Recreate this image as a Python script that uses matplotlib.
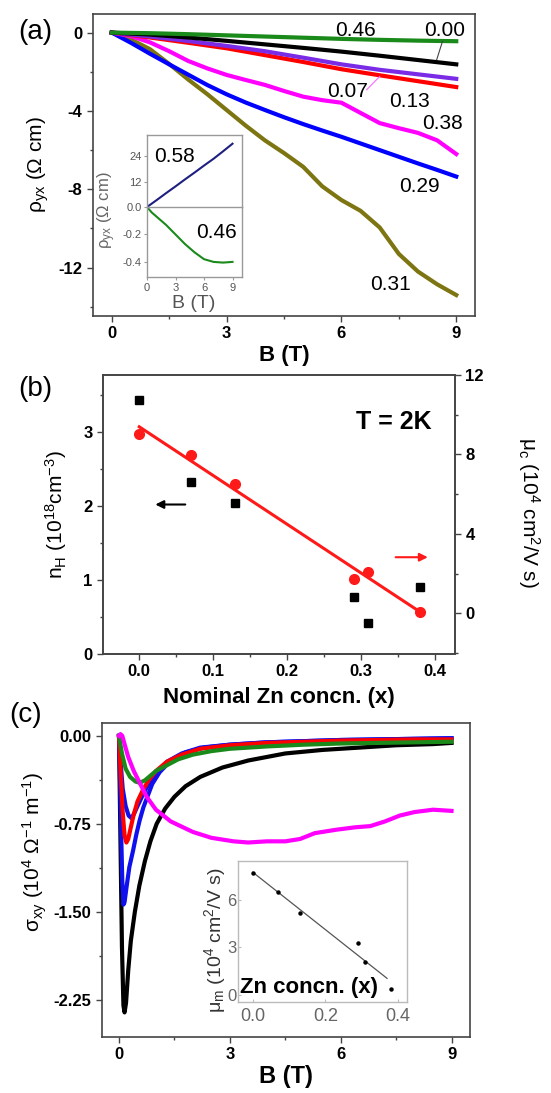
import numpy as np
import matplotlib
matplotlib.use("Agg")
import matplotlib.pyplot as plt
from matplotlib.ticker import MultipleLocator

plt.rcParams['font.family'] = ['Liberation Sans', 'DejaVu Sans']
plt.rcParams['mathtext.fontset'] = 'custom'
plt.rcParams['mathtext.rm'] = 'Liberation Sans'
plt.rcParams['mathtext.it'] = 'Liberation Sans:italic'
plt.rcParams['mathtext.bf'] = 'Liberation Sans:bold'
plt.rcParams['axes.unicode_minus'] = False

# ---------------- data: panel (a) ----------------
B_a10 = [0, 1, 2, 3, 4, 5, 6, 7, 8, 9]
B_a19 = [0, 0.5, 1, 1.5, 2, 2.5, 3, 3.5, 4, 4.5, 5, 5.5, 6, 6.5, 7, 7.5, 8, 8.5, 9]
rho_000 = [0, -0.1, -0.25, -0.42, -0.6, -0.78, -0.97, -1.18, -1.4, -1.62]
rho_purple = [0, -0.2, -0.43, -0.68, -0.95, -1.28, -1.62, -1.9, -2.13, -2.36]
rho_red = [0, -0.25, -0.52, -0.8, -1.15, -1.5, -1.87, -2.18, -2.48, -2.78]
rho_038 = [0, -0.18, -0.5, -0.95, -1.45, -1.83, -2.16, -2.42, -2.67, -2.98, -3.27,
           -3.45, -3.58, -4.1, -4.62, -4.88, -5.12, -5.5, -6.2]
rho_029 = [0, -0.52, -1.08, -1.62, -2.15, -2.68, -3.15, -3.57, -3.95, -4.32, -4.67,
           -5.0, -5.32, -5.66, -6.0, -6.34, -6.68, -7.01, -7.35]
rho_031 = [0, -0.35, -0.85, -1.6, -2.4, -3.15, -3.95, -4.75, -5.5, -6.15, -6.85,
           -7.85, -8.55, -9.1, -9.95, -11.3, -12.2, -12.85, -13.4]
rho_046 = [0, -0.03, -0.08, -0.14, -0.2, -0.26, -0.32, -0.37, -0.41, -0.44]

# inset (a)
B_in = [0, 1, 2, 3, 4, 5, 6, 7, 8, 9]
rho_058_in = [0, 3.2, 6.5, 9.7, 13.0, 16.2, 19.5, 22.7, 26.2, 29.8]
B_in46 = [0, 0.5, 1, 1.5, 2, 3, 4, 5, 6, 7, 8, 9]
rho_046_in = [0, -0.04, -0.07, -0.1, -0.13, -0.2, -0.27, -0.33, -0.38, -0.4, -0.405, -0.4]

# ---------------- data: panel (b) ----------------
x_zn = [0.0, 0.07, 0.13, 0.29, 0.31, 0.38]
n_H = [3.43, 2.32, 2.04, 0.77, 0.42, 0.90]
mu_c = [9.03, 7.95, 6.53, 1.75, 2.08, 0.08]

# ---------------- data: panel (c) ----------------
B_black = [0, 0.04, 0.08, 0.12, 0.15, 0.19, 0.25, 0.32, 0.43, 0.55, 0.7, 0.85, 1.02,
           1.25, 1.5, 1.8, 2.2, 2.8, 3.5, 4.5, 5.5, 6.5, 7.5, 8.5, 9]
s_black = [0, -0.9, -1.8, -2.3, -2.36, -2.28, -2.0, -1.75, -1.5, -1.28, -1.07, -0.9, -0.75,
           -0.62, -0.52, -0.43, -0.35, -0.27, -0.21, -0.15, -0.12, -0.1, -0.08, -0.07, -0.06]
B_blue1 = [0, 0.03, 0.06, 0.09, 0.12, 0.15, 0.2, 0.28, 0.38, 0.47, 0.56, 0.66, 0.78, 0.9,
           1.1, 1.4, 1.8, 2.3, 3, 4, 5, 6, 7, 8, 9]
s_blue1 = [0, -0.4, -0.85, -1.25, -1.44, -1.42, -1.3, -1.12, -0.98, -0.84, -0.72, -0.61,
           -0.51, -0.41, -0.31, -0.21, -0.14, -0.1, -0.075, -0.055, -0.045, -0.035, -0.03,
           -0.025, -0.02]
B_blue2 = [0, 0.05, 0.1, 0.18, 0.26, 0.33, 0.4, 0.5, 0.65, 0.8, 1.0, 1.3, 1.7, 2.2, 3,
           4, 5, 6, 7, 8, 9]
s_blue2 = [0, -0.25, -0.45, -0.6, -0.68, -0.7, -0.67, -0.6, -0.5, -0.41, -0.32, -0.22,
           -0.15, -0.1, -0.075, -0.055, -0.045, -0.035, -0.03, -0.025, -0.02]
B_red = [0, 0.05, 0.1, 0.15, 0.2, 0.25, 0.32, 0.4, 0.5, 0.65, 0.8, 1.0, 1.3, 1.7, 2.2, 3,
         4, 5, 6, 7, 8, 9]
s_red = [0, -0.35, -0.65, -0.85, -0.91, -0.88, -0.78, -0.67, -0.56, -0.46, -0.38, -0.3,
         -0.22, -0.16, -0.11, -0.08, -0.06, -0.05, -0.04, -0.035, -0.03, -0.03]
B_green = [0, 0.08, 0.18, 0.3, 0.45, 0.56, 0.7, 0.85, 1.0, 1.3, 1.6, 2.0, 2.5, 3, 4, 5,
           6, 7, 8, 9]
s_green = [0, -0.15, -0.28, -0.35, -0.39, -0.4, -0.38, -0.34, -0.3, -0.25, -0.2, -0.16,
           -0.13, -0.11, -0.09, -0.075, -0.065, -0.06, -0.055, -0.05]
B_mag = [0, 0.04, 0.09, 0.15, 0.25, 0.4, 0.56, 0.75, 1.0, 1.4, 2.0, 2.5, 3.1, 3.5, 4.0, 4.5,
         4.9, 5.3, 5.9, 6.4, 6.8, 7.2, 7.6, 8.0, 8.5, 9.0]
s_mag = [0, 0.015, 0.0, -0.07, -0.18, -0.3, -0.4, -0.52, -0.63, -0.73, -0.82, -0.87, -0.9,
         -0.91, -0.9, -0.9, -0.88, -0.83, -0.8, -0.78, -0.77, -0.73, -0.68, -0.65, -0.63,
         -0.64]

# inset (c)
x_zn_in = [0.0, 0.07, 0.13, 0.29, 0.31, 0.38]
mu_m = [7.7, 6.5, 5.15, 3.3, 2.1, 0.35]

# tick labels
ticks_a_x = [0, 3, 6, 9]
ticks_a_y = [0, -4, -8, -12]
ticks_b_x = [0.0, 0.1, 0.2, 0.3, 0.4]
ticks_b_yl = [0, 1, 2, 3]
ticks_b_yr = [0, 4, 8, 12]
ticks_c_y = [0.0, -0.75, -1.5, -2.25]

W, H = 551, 1093


def rect(l, t, r, b):
    return [l / W, 1 - b / H, (r - l) / W, (b - t) / H]


def fxy(x, y):
    return x / W, 1 - y / H


def style_main(ax, xt=None, xfmt=None, yt=None, yfmt=None, fs=12):
    for s in ax.spines.values():
        s.set_color('#444444')
        s.set_linewidth(1.2)
    ax.tick_params(which='both', direction='out', colors='#444444', labelcolor='black',
                   width=1.0)
    ax.tick_params(which='major', length=4)
    ax.tick_params(which='minor', length=2.5)
    if xt is not None:
        ax.set_xticks(xt, [xfmt % v for v in xt], fontsize=fs, fontweight='bold')
    if yt is not None:
        ax.set_yticks(yt, [yfmt % v for v in yt], fontsize=fs, fontweight='bold')


fig = plt.figure(figsize=(W / 100, H / 100), dpi=100)

# ================= panel (a) =================
ax = fig.add_axes(rect(93, 14, 475, 316))
lw = 3.0
ax.plot(B_a19, rho_031, color='#7d7512', lw=lw)
ax.plot(B_a19, rho_029, color='#0000ff', lw=lw)
ax.plot(B_a19, rho_038, color='#ff00ff', lw=lw)
ax.plot(B_a10, rho_red, color='#ff0000', lw=lw)
ax.plot(B_a10, rho_purple, color='#7a2be6', lw=lw)
ax.plot(B_a10, rho_000, color='black', lw=lw)
ax.plot(B_a10, rho_046, color='#1a8a1a', lw=lw)
ax.set_xlim(-0.49, 9.49)
ax.set_ylim(-14.47, 0.95)
style_main(ax, ticks_a_x, '%d', ticks_a_y, '%d', fs=12)
ax.xaxis.set_minor_locator(MultipleLocator(1.5))
ax.yaxis.set_minor_locator(MultipleLocator(2))
lab_fs = 15
ax.text(6.38, 0.1, '0.46', fontsize=lab_fs, ha='center', va='center')
ax.text(8.7, 0.1, '0.00', fontsize=lab_fs, ha='center', va='center')
ax.plot([8.64, 8.49], [-0.45, -1.38], color='#444444', lw=0.8)
ax.text(6.17, -3.0, '0.07', fontsize=lab_fs, ha='center', va='center')
ax.plot([6.66, 7.0], [-2.92, -2.24], color='#ff66ff', lw=0.8)
ax.text(7.77, -3.52, '0.13', fontsize=lab_fs, ha='center', va='center')
ax.text(8.64, -4.66, '0.38', fontsize=lab_fs, ha='center', va='center')
ax.text(8.03, -7.86, '0.29', fontsize=lab_fs, ha='center', va='center')
ax.text(7.27, -12.87, '0.31', fontsize=lab_fs, ha='center', va='center')

fig.text(*fxy(35, 32), '(a)', fontsize=20, ha='center', va='center')
fig.text(*fxy(38, 165), 'ρ$_{\\mathrm{yx}}$ (Ω cm)', fontsize=15, rotation=90,
         ha='center', va='center')
fig.text(*fxy(284, 355), 'B (T)', fontsize=16, fontweight='bold', ha='center', va='center')

# inset (a) : split axes
grey = '#999999'
axt = fig.add_axes(rect(147, 135, 242, 207))
axb = fig.add_axes(rect(147, 207, 242, 277))
axt.plot(B_in, rho_058_in, color='#1f1f80', lw=1.5)
axb.plot(B_in46, rho_046_in, color='#1a8a1a', lw=1.5)
for a in (axt, axb):
    a.set_xlim(0, 10)
    for s in a.spines.values():
        s.set_color(grey)
        s.set_linewidth(1.0)
    a.tick_params(which='both', direction='out', colors=grey, labelcolor='#555555',
                  labelsize=8, length=2.5, width=0.8, pad=1.5)
axt.set_ylim(0, 33.9)
axt.set_yticks([12, 24], ['12', '24'])
axt.set_xticks([])
axt.spines['bottom'].set_visible(False)
axb.set_ylim(-0.51, 0)
axb.set_yticks([0.0, -0.2, -0.4], ['0.0', '-0.2', '-0.4'])
axb.set_xticks([0, 3, 6, 9], ['0', '3', '6', '9'])
axt.text(0.08, 0.7, '0.58', transform=axt.transAxes, fontsize=15, ha='left', va='center')
axb.text(0.95, 0.64, '0.46', transform=axb.transAxes, fontsize=15, ha='right', va='center')
fig.text(*fxy(107, 210), 'ρ$_{\\mathrm{yx}}$ (Ω cm)', fontsize=12, rotation=90,
         color='#666666', ha='center', va='center')
fig.text(*fxy(194, 303), 'B (T)', fontsize=14, color='#555555', ha='center', va='center')

# ================= panel (b) =================
axb2 = fig.add_axes(rect(103, 375, 455, 654))
axb2.plot(x_zn, n_H, 's', color='black', ms=6)
axb2.set_xlim(-0.049, 0.427)
axb2.set_ylim(0, 3.77)
style_main(axb2, ticks_b_x, '%.1f', ticks_b_yl, '%d', fs=12)
axb2.xaxis.set_minor_locator(MultipleLocator(0.05))
axb2.yaxis.set_minor_locator(MultipleLocator(0.5))
axb2.annotate('', xy=(0.018, 2.02), xytext=(0.066, 2.02),
              arrowprops=dict(arrowstyle='-|>', color='black', lw=1.5, mutation_scale=12))

axr = axb2.twinx()
coef = np.polyfit(x_zn, mu_c, 1)
xfit = np.array([x_zn[0], x_zn[-1]])
axr.plot(xfit, np.polyval(coef, xfit), color='#ff1a1a', lw=2.2)
axr.plot(x_zn, mu_c, 'o', color='#ff1a1a', ms=7)
axr.set_ylim(-2.04, 12)
style_main(axr, None, None, ticks_b_yr, '%d', fs=12)
axr.yaxis.set_minor_locator(MultipleLocator(2))
axr.annotate('', xy=(0.394, 2.83), xytext=(0.343, 2.83),
             arrowprops=dict(arrowstyle='-|>', color='#ff1a1a', lw=1.5, mutation_scale=12))

fig.text(*fxy(394, 422), 'T = 2K', fontsize=18, fontweight='bold', ha='center', va='center')
fig.text(*fxy(35, 389), '(b)', fontsize=20, ha='center', va='center')
fig.text(*fxy(56, 515), 'n$_{\\mathrm{H}}$ (10$^{18}$cm$^{-3}$)', fontsize=15, rotation=90,
         ha='center', va='center')
fig.text(*fxy(529, 512), 'μ$_{\\mathrm{c}}$ (10$^{4}$ cm$^{2}$/V s)', fontsize=15,
         rotation=-90, ha='center', va='center')
fig.text(*fxy(279, 698), 'Nominal Zn concn. (x)', fontsize=16, fontweight='bold',
         ha='center', va='center')

# ================= panel (c) =================
axc = fig.add_axes(rect(102, 723, 470, 1037))
lwc = 3.0
axc.plot(B_black, s_black, color='black', lw=lwc)
axc.plot(B_blue1, s_blue1, color='#1010ee', lw=lwc)
axc.plot(B_blue2, s_blue2, color='#1010ee', lw=lwc)
axc.plot(B_red, s_red, color='#ff0000', lw=lwc)
axc.plot(B_green, s_green, color='#1a8a1a', lw=lwc)
axc.plot(B_mag, s_mag, color='#ff00ff', lw=lwc)
axc.set_xlim(-0.46, 9.5)
axc.set_ylim(-2.57, 0.11)
style_main(axc, ticks_a_x, '%d', ticks_c_y, '%.2f', fs=12)
axc.xaxis.set_minor_locator(MultipleLocator(1.5))
axc.yaxis.set_minor_locator(MultipleLocator(0.375))

fig.text(*fxy(26, 715), '(c)', fontsize=20, ha='center', va='center')
fig.text(*fxy(35, 852), 'σ$_{\\mathrm{xy}}$ (10$^{4}$ Ω$^{-1}$ m$^{-1}$)', fontsize=15,
         rotation=90, ha='center', va='center')
fig.text(*fxy(286, 1077), 'B (T)', fontsize=17, fontweight='bold', ha='center', va='center')

# inset (c)
axi = fig.add_axes(rect(238, 861, 407, 1002))
coef2 = np.polyfit(x_zn_in, mu_m, 1)
xfit2 = np.array([x_zn_in[0], 0.37])
axi.plot(xfit2, np.polyval(coef2, xfit2), color='#555555', lw=0.9)
axi.plot(x_zn_in, mu_m, 'o', color='black', ms=2.2)
axi.set_xlim(-0.041, 0.425)
axi.set_ylim(-0.45, 8.46)
axi.set_xticks([0.0, 0.2, 0.4], ['0.0', '0.2', '0.4'])
axi.set_yticks([0, 3, 6], ['0', '3', '6'])
for s in axi.spines.values():
    s.set_color('#bbbbbb')
    s.set_linewidth(1.0)
axi.tick_params(which='both', direction='in', colors='#bbbbbb', labelcolor='#666666',
                length=2, width=0.8)
axi.tick_params(axis='x', labelsize=13, pad=4)
axi.tick_params(axis='y', labelsize=12, pad=1)
axi.text(0.01, 0.10, 'Zn concn. (x)', transform=axi.transAxes, fontsize=16,
         fontweight='bold', ha='left', va='center')
fig.text(*fxy(215, 940), 'μ$_{\\mathrm{m}}$ (10$^{4}$ cm$^{2}$/V s)', fontsize=14,
         rotation=90, color='#333333', ha='center', va='center')

fig.savefig('out.png', dpi=100)
